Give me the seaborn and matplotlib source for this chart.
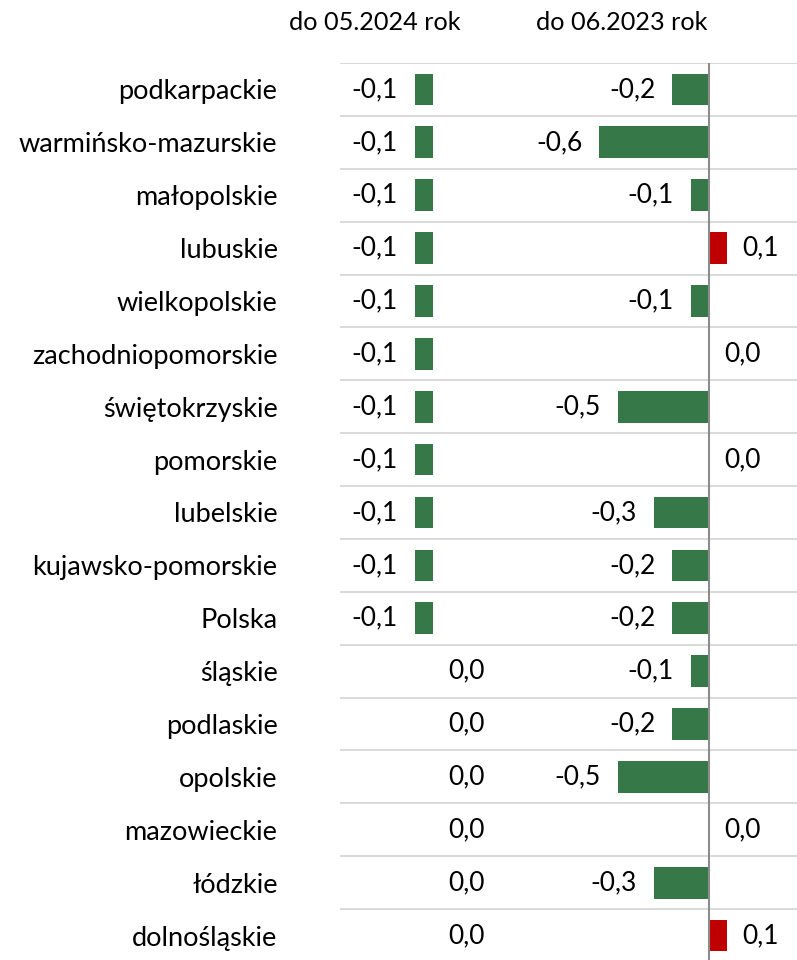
import matplotlib
matplotlib.use("Agg")
import matplotlib.pyplot as plt
import seaborn as sns
import numpy as np
import pandas as pd

regions = ["podkarpackie", "warmińsko-mazurskie", "małopolskie", "lubuskie",
           "wielkopolskie", "zachodniopomorskie", "świętokrzyskie", "pomorskie",
           "lubelskie", "kujawsko-pomorskie", "Polska", "śląskie", "podlaskie",
           "opolskie", "mazowieckie", "łódzkie", "dolnośląskie"]
vals_2024 = [-0.1, -0.1, -0.1, -0.1, -0.1, -0.1, -0.1, -0.1, -0.1, -0.1, -0.1,
             0.0, 0.0, 0.0, 0.0, 0.0, 0.0]
vals_2023 = [-0.2, -0.6, -0.1, 0.1, -0.1, 0.0, -0.5, 0.0, -0.3, -0.2, -0.2,
             -0.1, -0.2, -0.5, 0.0, -0.3, 0.1]
titles = ["do 05.2024 rok", "do 06.2023 rok"]

GREEN = "#377848"
RED = "#C00000"
FONT = "Lato"
FS = 19.5
FS_VAL = 19.0
FS_TITLE = 18.2

sns.set_theme(style="white")
plt.rcParams["font.family"] = [FONT, "DejaVu Sans"]

W, H = 797, 960
fig = plt.figure(figsize=(W / 100, H / 100), dpi=100)

top_px, bot_px = 63, 962
split_px = 570
ax1 = fig.add_axes([340 / W, (H - bot_px) / H, (split_px - 340) / W, (bot_px - top_px) / H])
ax2 = fig.add_axes([split_px / W, (H - bot_px) / H, (W - split_px) / W, (bot_px - top_px) / H])

unit = 183.0  # px per 1.0
xlims = [(-(433 - 340) / unit, (split_px - 433) / unit),
         (-(709 - split_px) / unit, (W - 709) / unit)]

n = len(regions)
for ax, vals, xl in zip([ax1, ax2], [vals_2024, vals_2023], xlims):
    df = pd.DataFrame({"region": regions, "value": vals})
    colors = [GREEN if v < 0 else RED for v in vals]
    sns.barplot(data=df, y="region", x="value", hue="region", palette=colors,
                legend=False, orient="h", width=0.6, ax=ax, saturation=1,
                edgecolor="none")
    ax.set_xlim(*xl)
    ax.set_ylim(n - 0.5, -0.5)
    ax.set_xlabel("")
    ax.set_ylabel("")
    ax.set_xticks([])
    ax.set_yticks(np.arange(n + 1) - 0.5, minor=True)
    ax.grid(False)
    ax.grid(axis="y", which="minor", color="#d9d9d9", lw=1.4)
    for s in ax.spines.values():
        s.set_visible(False)
    ax.tick_params(axis="y", which="both", length=0)
    for i, v in enumerate(vals):
        lab = f"{v:.1f}".replace(".", ",")
        if v < 0:
            ax.annotate(lab, (v, i), xytext=(-17, 0), textcoords="offset pixels",
                        ha="right", va="center", fontsize=FS_VAL, color="#000000")
        elif v > 0:
            ax.annotate(lab, (v, i), xytext=(15, 0), textcoords="offset pixels",
                        ha="left", va="center", fontsize=FS_VAL, color="#000000")
        else:
            ax.annotate(lab, (0, i), xytext=(15, 0), textcoords="offset pixels",
                        ha="left", va="center", fontsize=FS_VAL, color="#000000")

ax1.set_yticks(range(n))
ax1.set_yticklabels(regions, fontsize=FS, color="#000000")
ax1.tick_params(axis="y", pad=45)
ax2.set_yticks(range(n))
ax2.set_yticklabels([])
ax2.axvline(0, color="#8c8c8c", lw=1.5, zorder=5)

fig.text(375 / W, 1 - 22 / H, titles[0], ha="center", va="center", fontsize=FS_TITLE, color="#000000")
fig.text(622 / W, 1 - 22 / H, titles[1], ha="center", va="center", fontsize=FS_TITLE, color="#000000")

fig.savefig("out.png", dpi=100, facecolor="white")
